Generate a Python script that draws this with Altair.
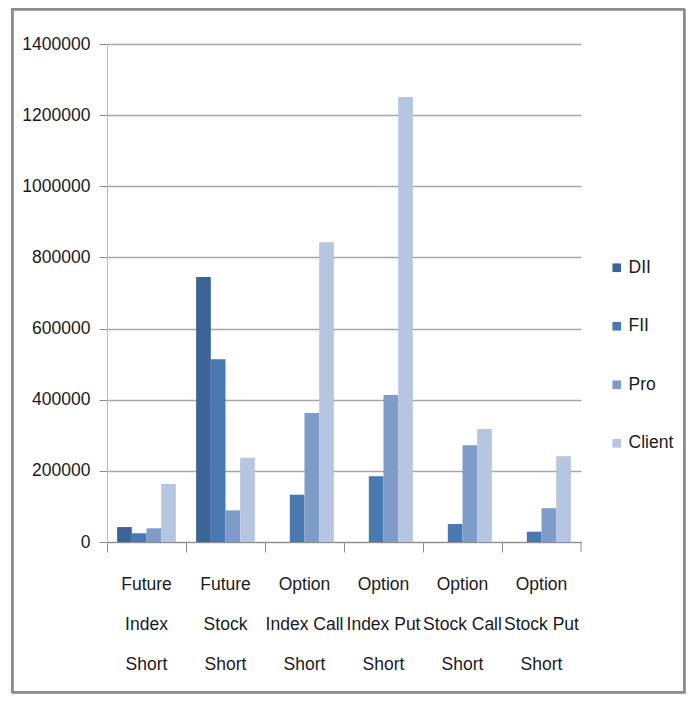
import altair as alt
import pandas as pd

categories = ["Future|Index|Short", "Future|Stock|Short", "Option|Index Call|Short",
              "Option|Index Put|Short", "Option|Stock Call|Short", "Option|Stock Put|Short"]
series = ["DII", "FII", "Pro", "Client"]
dii = [42000, 745000, 0, 0, 0, 0]
fii = [24500, 514000, 133000, 185000, 50500, 29000]
pro = [38500, 89000, 363000, 413000, 272000, 95000]
client = [163000, 237000, 843000, 1251000, 318000, 241000]
colors = ["#3C6496", "#4A78B0", "#7F9CC8", "#B6C5E0"]
y_ticks = [0, 200000, 400000, 600000, 800000, 1000000, 1200000, 1400000]

rows = []
for name, vals in zip(series, [dii, fii, pro, client]):
    for c, v in zip(categories, vals):
        rows.append({"cat": c, "series": name, "value": v})
df = pd.DataFrame(rows)

FONT = "Liberation Sans, Arial, sans-serif"
FS = 17.5
W, H = 474, 498

bars = alt.Chart(df).mark_bar().encode(
    x=alt.X("cat:N", sort=categories, title=None,
            scale=alt.Scale(paddingInner=0, paddingOuter=0),
            axis=alt.Axis(labelExpr="split(datum.label, '|')", labelAngle=0,
                          bandPosition=0, tickSize=10, tickColor="#8C8C8C",
                          domainColor="#8C8C8C", labelFont=FONT, labelFontSize=FS,
                          labelLineHeight=40, labelPadding=23, labelBaseline="top",
                          labelColor="#1a1a1a", grid=False)),
    xOffset=alt.XOffset("series:N", sort=series,
                        scale=alt.Scale(paddingInner=0, paddingOuter=0.69)),
    y=alt.Y("value:Q", title=None,
            scale=alt.Scale(domain=[0, 1400000], nice=False),
            axis=alt.Axis(values=y_ticks, format="d", tickSize=8, tickColor="#8C8C8C",
                          domainColor="#BDBDBD", gridColor="#A6A6A6", gridWidth=1.5,
                          labelFont=FONT, labelFontSize=FS, labelPadding=9,
                          labelColor="#1a1a1a")),
    color=alt.Color("series:N", sort=series,
                    scale=alt.Scale(domain=series, range=colors),
                    legend=alt.Legend(title=None, orient="none", legendX=501, legendY=215,
                                      symbolType="square", symbolSize=75,
                                      symbolStrokeWidth=0, labelFont=FONT,
                                      labelFontSize=FS, labelColor="#1a1a1a",
                                      rowPadding=39.5, labelOffset=3)),
)

one = pd.DataFrame({"k": [0]})
end_tick = alt.Chart(one).mark_rule(color="#8C8C8C").encode(
    x=alt.value(W), y=alt.value(H), y2=alt.value(H + 10))
frame_shadow = alt.Chart(one).mark_rect(fill=None, stroke="#A0A0A0", strokeWidth=2).encode(
    x=alt.value(-94), x2=alt.value(W + 104), y=alt.value(-34), y2=alt.value(H + 151))
frame = alt.Chart(one).mark_rect(fill=None, stroke="#8C8C8C", strokeWidth=2).encode(
    x=alt.value(-95), x2=alt.value(W + 103), y=alt.value(-35), y2=alt.value(H + 150))

chart = alt.layer(frame_shadow, frame, bars, end_tick).properties(
    width=W, height=H,
    autosize=alt.AutoSizeParams(type="none"),
    padding={"left": 99, "top": 36, "right": 105, "bottom": 152},
    background="white",
).configure_view(stroke=None)

chart.save("out.html", embed_options={"renderer": "svg", "actions": False})
